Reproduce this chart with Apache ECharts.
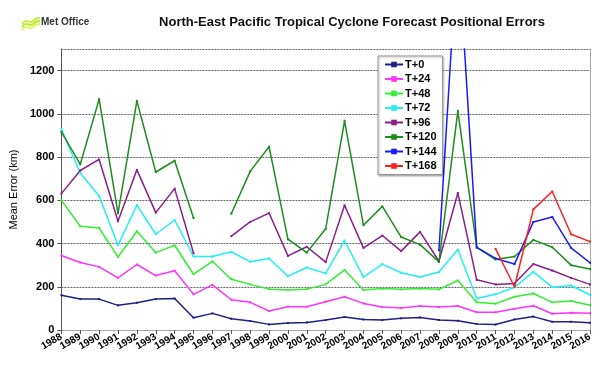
<!DOCTYPE html>
<html><head><meta charset="utf-8">
<script src="https://cdn.jsdelivr.net/npm/echarts@6/dist/echarts.min.js"></script>
<style>html,body{margin:0;padding:0;background:#fff}#c{width:600px;height:367px}</style>
</head><body><div id="c"></div>
<script>
const years = ['1988','1989','1990','1991','1992','1993','1994','1995','1996','1997','1998','1999','2000','2001','2002','2003','2004','2005','2006','2007','2008','2009','2010','2011','2012','2013','2014','2015','2016'];
const t0   = [161,143,143,114,126,143,146,57,77,52,42,26,32,35,46,60,49,46,54,58,46,43,28,25,49,62,38,38,34];
const t24  = [345,312,292,241,303,252,274,165,209,140,128,88,108,108,131,154,123,106,102,111,106,111,82,82,98,112,75,80,77];
const t48  = [601,480,472,338,457,358,392,258,318,235,211,189,185,189,211,278,185,192,188,192,188,229,128,122,154,169,128,134,115];
const t72  = [929,726,620,392,578,443,509,340,340,362,316,331,249,289,262,414,245,305,265,245,268,372,146,165,198,269,198,206,162];
const t96  = [631,738,789,503,741,543,654,355,null,434,500,541,343,385,314,577,380,437,365,454,318,634,232,211,215,305,275,241,211];
const t120 = [917,766,1068,540,1060,731,783,518,null,538,734,848,420,358,468,968,485,572,430,395,315,1014,382,326,340,417,383,300,282];
const t144 = [null,null,null,null,null,null,null,null,null,null,null,null,null,null,null,null,null,null,null,null,369,1800,382,331,305,500,523,380,311];
const t168 = [null,null,null,null,null,null,null,null,null,null,null,null,null,null,null,null,null,null,null,null,null,null,null,375,200,558,641,443,409];

const seriesDefs = [
  ['T+0', t0, '#20208c'],
  ['T+24', t24, '#ff33ff'],
  ['T+48', t48, '#33ee33'],
  ['T+72', t72, '#22f0f0'],
  ['T+96', t96, '#8a1f8a'],
  ['T+120', t120, '#1e8c1e'],
  ['T+144', t144, '#1a1aff'],
  ['T+168', t168, '#ff2020']
];

const chart = echarts.init(document.getElementById('c'));
const font = 'Liberation Sans';
chart.setOption({
  animation: false,
  backgroundColor: '#fff',
  title: {
    text: 'North-East Pacific Tropical Cyclone Forecast Positional Errors',
    left: 347, top: 11, textAlign: 'center',
    textStyle: {fontFamily: font, fontSize: 13, fontWeight: 'bold', color: '#111'}
  },
  graphic: [
    {type: 'polyline', shape: {points: [[22,24],[26,21],[31,22],[36,19],[40,18]], smooth: 0.5}, style: {stroke: '#c8f040', lineWidth: 2, fill: null}},
    {type: 'polyline', shape: {points: [[22,27],[26,24],[31,25],[36,22],[40,21]], smooth: 0.5}, style: {stroke: '#b8e830', lineWidth: 2, fill: null}},
    {type: 'polyline', shape: {points: [[22,30],[26,27],[31,28],[36,25],[40,24]], smooth: 0.5}, style: {stroke: '#d8f860', lineWidth: 2, fill: null}},
    {type: 'text', left: 41, top: 17, style: {text: 'Met Office', fontFamily: font, fontSize: 10, fontWeight: 'bold', fill: '#333'}}
  ],
  legend: {
    orient: 'vertical', left: 378, top: 56,
    padding: [3, 6, 3, 6], itemGap: 3.5,
    itemWidth: 18, itemHeight: 7,
    backgroundColor: '#fff', borderColor: '#999', borderWidth: 1,
    shadowColor: 'rgba(0,0,0,0.3)', shadowBlur: 2, shadowOffsetX: 1, shadowOffsetY: 1,
    textStyle: {fontFamily: font, fontSize: 11, fontWeight: 'bold', color: '#000', padding: [0,0,0,-3]},
    data: seriesDefs.map(s => s[0])
  },
  grid: {left: 60, right: 10, top: 49, bottom: 37},
  xAxis: [{
    type: 'category', data: years, boundaryGap: false,
    axisLine: {lineStyle: {color: '#555', width: 1}},
    axisTick: {show: true, alignWithLabel: true, length: 4, lineStyle: {color: '#555'}},
    axisLabel: {rotate: 30, fontFamily: font, fontSize: 10, fontWeight: 'bold', color: '#000', margin: 6, interval: 0},
    splitLine: {show: false}
  }, {
    type: 'category', data: years, boundaryGap: false, position: 'top',
    axisLine: {lineStyle: {color: '#aaa'}}, axisTick: {show: false}, axisLabel: {show: false}
  }],
  yAxis: [{
    type: 'value', min: 0, max: 1300, interval: 200,
    name: 'Mean Error (km)', nameLocation: 'middle', nameGap: 34,
    nameTextStyle: {fontFamily: font, fontSize: 11, color: '#000'},
    axisLine: {show: true, lineStyle: {color: '#555'}},
    axisTick: {show: true, length: 4, lineStyle: {color: '#555'}},
    axisLabel: {showMaxLabel: false, formatter: v => String(v), fontFamily: font, fontSize: 11, fontWeight: 'bold', color: '#000', margin: 7},
    splitLine: {show: true, lineStyle: {color: '#666', type: [2, 1], width: 1}}
  }, {
    type: 'value', min: 0, max: 1300, position: 'right',
    axisLine: {show: true, lineStyle: {color: '#aaa'}}, axisTick: {show: false}, axisLabel: {show: false}, splitLine: {show: false}
  }],
  series: seriesDefs.map(s => ({
    name: s[0], type: 'line', data: s[1],
    symbol: 'rect', symbolSize: 2, showSymbol: true,
    connectNulls: false, clip: true,
    lineStyle: {color: s[2], width: 1.5},
    itemStyle: {color: s[2]}
  }))
});
</script></body></html>
